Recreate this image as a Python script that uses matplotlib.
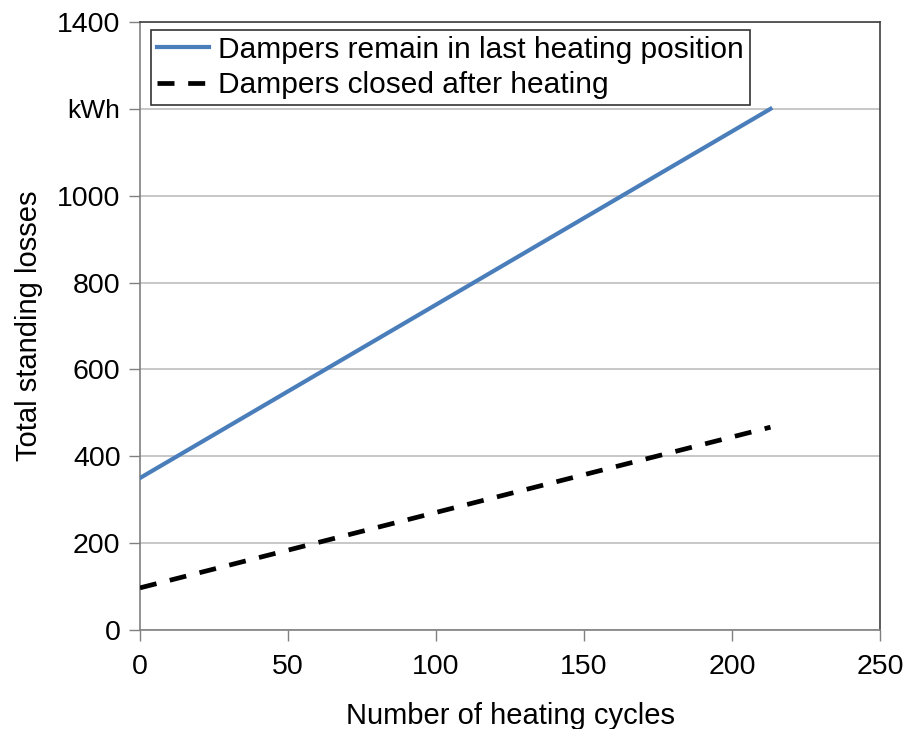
import matplotlib
matplotlib.use("Agg")
import matplotlib.pyplot as plt

plt.rcParams['font.family'] = ['Liberation Sans', 'DejaVu Sans']

cycles = [0, 213]
losses_open = [350, 1200]
losses_closed = [97, 467]

y_ticks = [0, 200, 400, 600, 800, 1000, 1200, 1400]
y_tick_labels = ['0', '200', '400', '600', '800', '1000', 'kWh', '1400']
x_ticks = [0, 50, 100, 150, 200, 250]

fig = plt.figure(figsize=(9.06, 7.29), dpi=100)
ax = fig.add_axes([140 / 906, 1 - 630 / 729, 740 / 906, 608 / 729])

ax.plot(cycles, losses_open, color='#4A7EBB', linewidth=3,
        label='Dampers remain in last heating position', zorder=3)
ax.plot(cycles, losses_closed, color='black', linewidth=3.4, dashes=(3.6, 2.9),
        label='Dampers closed after heating', zorder=3)

ax.set_xlim(0, 250)
ax.set_ylim(0, 1400)
ax.set_xticks(x_ticks)
ax.set_yticks(y_ticks)
ax.set_yticklabels(y_tick_labels)
for lbl in ax.get_yticklabels():
    if lbl.get_text() == 'kWh':
        lbl.set_fontsize(19)
    else:
        lbl.set_fontsize(20.5)
for lbl in ax.get_xticklabels():
    lbl.set_fontsize(20.5)

ax.yaxis.grid(True, color='#BDBDBD', linewidth=1.2)
ax.set_axisbelow(True)
ax.tick_params(direction='out', length=8, width=1, color='#808080', pad=6)
ax.tick_params(axis='x', pad=9)

for side in ['left', 'bottom']:
    ax.spines[side].set_color('#808080')
for side in ['top', 'right']:
    ax.spines[side].set_color('#404040')
for s in ax.spines.values():
    s.set_linewidth(1.2)

ax.set_xlabel('Number of heating cycles', fontsize=21, labelpad=16)
ax.set_ylabel('Total standing losses', fontsize=21, labelpad=10)

leg = ax.legend(loc='upper left', fontsize=21.5, frameon=True, fancybox=False,
                handlelength=1.75, handletextpad=0.3, borderpad=0.2,
                labelspacing=0.25, bbox_to_anchor=(0.015, 0.987), borderaxespad=0)
leg.get_frame().set_edgecolor('black')
leg.get_frame().set_linewidth(1.2)

fig.savefig('out.png', dpi=100)
